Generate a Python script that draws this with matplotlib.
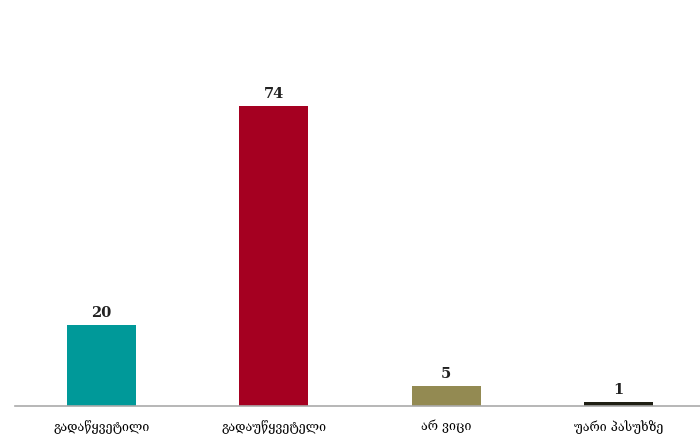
import matplotlib
matplotlib.use("Agg")
import matplotlib.pyplot as plt

categories = ["გადაწყვეტილი", "გადაუწყვეტელი", "არ ვიცი", "უარი პასუხზე"]
values = [20, 74, 5, 1]
colors = ["#009999", "#a50021", "#938a52", "#1f1f14"]

fig = plt.figure(figsize=(7, 4.42), dpi=100)
ax = fig.add_axes([15/700, 36/442, 690/700, 406/442])
x = range(len(categories))
bars = ax.bar(x, values, width=0.40, color=colors)
for xi, v in zip(x, values):
    ax.text(xi, v + 1.2, str(v), ha="center", va="bottom", fontsize=10.5,
            fontweight="bold", family="DejaVu Serif", color="#222222")
ax.set_xlim(-0.5, 3.5)
ax.set_ylim(0, 100)
ax.set_xticks(list(x))
ax.set_xticklabels(categories, fontsize=9, family="DejaVu Serif")
ax.tick_params(axis="x", length=0, pad=10)
ax.set_yticks([])
for s in ["top", "right", "left"]:
    ax.spines[s].set_visible(False)
ax.spines["bottom"].set_color("#aaaaaa")
ax.spines["bottom"].set_linewidth(1.2)
fig.savefig("out.png", dpi=100)
